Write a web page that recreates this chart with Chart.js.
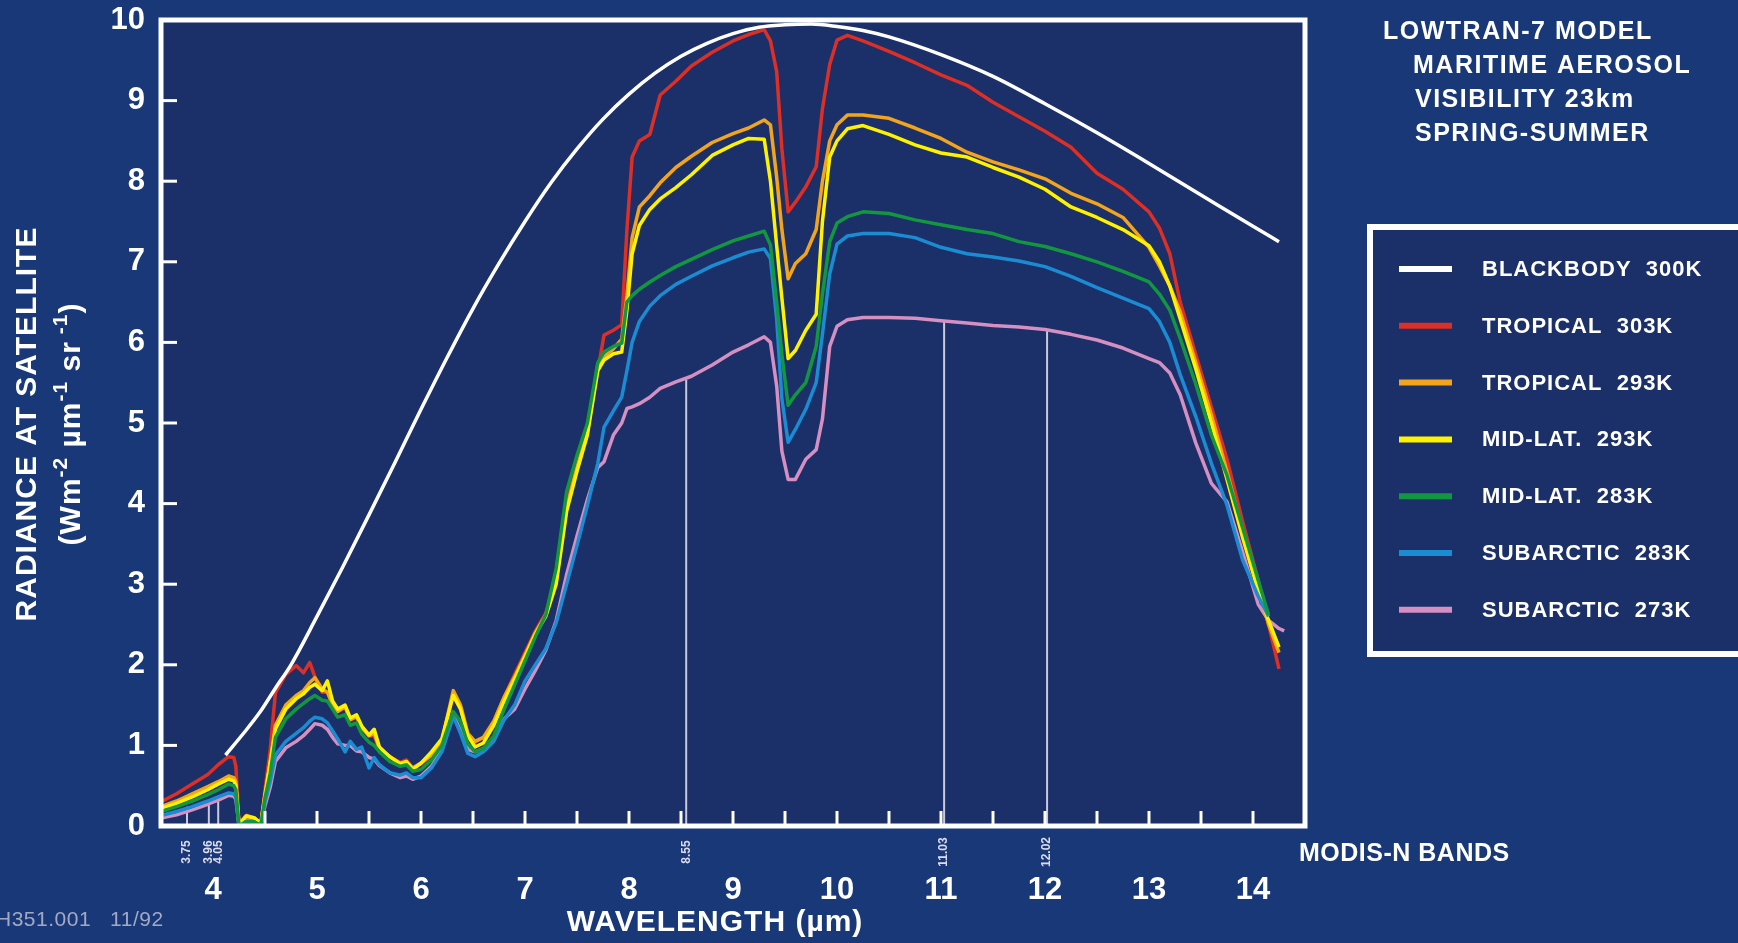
<!DOCTYPE html>
<html>
<head>
<meta charset="utf-8">
<script src="https://cdn.jsdelivr.net/npm/chart.js@4.4.1/dist/chart.umd.min.js"></script>
<style>
  html, body { margin: 0; padding: 0; background: #193878; overflow: hidden; }
  canvas { display: block; }
</style>
</head>
<body>
<canvas id="chart" width="1738" height="943"></canvas>
<script>
// wavelength grid (um) shared by the six LOWTRAN curves
const wavelength = [
  3.5, 3.65, 3.8, 3.95, 4.05, 4.15, 4.2, 4.22, 4.25, 4.32,
  4.4, 4.46, 4.5, 4.55, 4.6, 4.7, 4.8, 4.87, 4.93, 4.98,
  5.05, 5.1, 5.15, 5.2, 5.27, 5.32, 5.38, 5.43, 5.5, 5.55,
  5.6, 5.7, 5.8, 5.86, 5.92, 6.0, 6.1, 6.2, 6.31, 6.38,
  6.45, 6.52, 6.6, 6.7, 6.8, 6.9, 7.0, 7.1, 7.2, 7.3,
  7.4, 7.5, 7.6, 7.7, 7.76, 7.85, 7.93, 7.98, 8.03, 8.1,
  8.2, 8.3, 8.45, 8.6, 8.8, 9.0, 9.15, 9.3, 9.36, 9.42,
  9.47, 9.53, 9.6, 9.7, 9.8, 9.86, 9.93, 10.0, 10.1, 10.25,
  10.5, 10.75, 11.0, 11.25, 11.5, 11.75, 12.0, 12.25, 12.5, 12.75,
  13.0, 13.1, 13.2, 13.3, 13.45, 13.6, 13.75, 13.9, 14.05, 14.15,
  14.25, 14.3
];

const tropical303 = [
  0.30, 0.40, 0.52, 0.64, 0.76, 0.86, 0.85, 0.74, 0.02, 0.10,
  0.08, 0.02, 0.45, 0.95, 1.65, 1.88, 1.99, 1.90, 2.03, 1.85,
  1.66, 1.66, 1.52, 1.44, 1.47, 1.32, 1.35, 1.22, 1.12, 1.12,
  0.96, 0.86, 0.79, 0.82, 0.72, 0.77, 0.88, 1.05, 1.64, 1.48,
  1.14, 1.04, 1.10, 1.30, 1.60, 1.88, 2.15, 2.42, 2.64, 3.10,
  4.00, 4.50, 4.92, 5.65, 6.09, 6.15, 6.22, 7.40, 8.30, 8.50,
  8.58, 9.07, 9.24, 9.43, 9.60, 9.74, 9.82, 9.88, 9.74, 9.36,
  8.40, 7.62, 7.74, 7.93, 8.18, 8.90, 9.45, 9.75, 9.81, 9.74,
  9.61, 9.47, 9.32, 9.19, 8.98, 8.80, 8.62, 8.42, 8.10, 7.90,
  7.62, 7.42, 7.10, 6.50, 5.85, 5.20, 4.55, 3.78, 3.05, 2.50,
  1.95, null
];

const tropical293 = [
  0.24, 0.31, 0.40, 0.49, 0.55, 0.62, 0.60, 0.55, 0.03, 0.13,
  0.10, 0.03, 0.40, 0.80, 1.25, 1.50, 1.62, 1.68, 1.78, 1.84,
  1.70, 1.66, 1.50, 1.42, 1.48, 1.32, 1.36, 1.22, 1.12, 1.15,
  0.96, 0.86, 0.78, 0.80, 0.72, 0.78, 0.88, 1.05, 1.68, 1.50,
  1.15, 1.05, 1.10, 1.30, 1.60, 1.85, 2.12, 2.40, 2.62, 3.05,
  3.95, 4.45, 4.88, 5.72, 5.82, 5.92, 6.04, 6.58, 7.30, 7.68,
  7.82, 7.98, 8.17, 8.31, 8.48, 8.59, 8.66, 8.76, 8.70, 8.05,
  7.40, 6.79, 6.98, 7.10, 7.40, 8.00, 8.50, 8.70, 8.82, 8.82,
  8.78, 8.66, 8.53, 8.36, 8.24, 8.14, 8.03, 7.85, 7.72, 7.55,
  7.18, 6.95, 6.70, 6.38, 5.75, 5.10, 4.40, 3.65, 2.95, 2.50,
  2.15, null
];

const midLat293 = [
  0.22, 0.28, 0.36, 0.45, 0.52, 0.58, 0.56, 0.50, 0.02, 0.12,
  0.10, 0.03, 0.38, 0.78, 1.20, 1.45, 1.58, 1.64, 1.72, 1.76,
  1.68, 1.80, 1.55, 1.45, 1.50, 1.34, 1.38, 1.24, 1.13, 1.20,
  0.98, 0.86, 0.77, 0.80, 0.70, 0.78, 0.92, 1.08, 1.62, 1.45,
  1.12, 0.98, 1.03, 1.25, 1.55, 1.82, 2.10, 2.38, 2.60, 3.00,
  3.90, 4.40, 4.85, 5.65, 5.78, 5.86, 5.88, 6.40, 7.10, 7.45,
  7.65, 7.78, 7.92, 8.08, 8.32, 8.45, 8.53, 8.52, 8.00, 7.20,
  6.55, 5.80, 5.90, 6.15, 6.35, 7.50, 8.30, 8.50, 8.65, 8.69,
  8.58, 8.45, 8.35, 8.30, 8.17, 8.05, 7.90, 7.68, 7.55, 7.40,
  7.20, 7.00, 6.70, 6.29, 5.67, 5.00, 4.30, 3.58, 2.92, 2.55,
  2.22, null
];

const midLat283 = [
  0.18, 0.24, 0.31, 0.39, 0.45, 0.52, 0.50, 0.45, -0.02, 0.05,
  0.05, 0.00, 0.35, 0.65, 1.10, 1.33, 1.45, 1.52, 1.58, 1.62,
  1.56, 1.55, 1.45, 1.35, 1.38, 1.25, 1.28, 1.14, 1.04, 1.00,
  0.92, 0.80, 0.74, 0.76, 0.68, 0.70, 0.82, 1.00, 1.42, 1.30,
  1.02, 0.92, 0.96, 1.12, 1.45, 1.75, 2.05, 2.35, 2.62, 3.20,
  4.15, 4.60, 5.00, 5.75, 5.88, 5.95, 5.99, 6.50, 6.58, 6.66,
  6.75, 6.83, 6.94, 7.03, 7.15, 7.26, 7.32, 7.38, 7.21, 6.50,
  5.85, 5.22, 5.35, 5.50, 5.95, 6.60, 7.25, 7.48, 7.56, 7.62,
  7.60, 7.52, 7.46, 7.40, 7.35, 7.25, 7.19, 7.10, 7.00, 6.88,
  6.75, 6.60, 6.40, 6.05, 5.48, 4.85, 4.35, 3.70, 3.05, 2.62,
  null, null
];

const subarctic283 = [
  0.13, 0.18, 0.24, 0.31, 0.36, 0.41, 0.40, 0.36, 0.00, 0.06,
  0.05, 0.01, 0.30, 0.55, 0.88, 1.05, 1.15, 1.22, 1.30, 1.35,
  1.33, 1.28, 1.18, 1.08, 0.92, 1.05, 0.95, 0.98, 0.72, 0.85,
  0.76, 0.66, 0.63, 0.66, 0.60, 0.60, 0.72, 0.92, 1.36, 1.15,
  0.90, 0.86, 0.92, 1.05, 1.32, 1.50, 1.80, 2.00, 2.20, 2.52,
  3.00, 3.48, 3.98, 4.50, 4.95, 5.15, 5.32, 5.65, 6.00, 6.26,
  6.45, 6.58, 6.72, 6.82, 6.95, 7.05, 7.12, 7.16, 7.04, 6.29,
  5.30, 4.76, 4.92, 5.17, 5.50, 6.10, 6.85, 7.22, 7.32, 7.35,
  7.35, 7.30, 7.18, 7.10, 7.06, 7.01, 6.94, 6.82, 6.68, 6.55,
  6.42, 6.26, 6.00, 5.60, 5.08, 4.50, 3.98, 3.30, 2.85, 2.60,
  null, null
];

const subarctic273 = [
  0.10, 0.14, 0.20, 0.27, 0.32, 0.38, 0.37, 0.33, 0.01, 0.07,
  0.05, 0.02, 0.25, 0.48, 0.80, 0.97, 1.05, 1.12, 1.20, 1.27,
  1.25, 1.20, 1.10, 1.02, 1.00, 1.00, 0.93, 0.92, 0.85, 0.83,
  0.75, 0.66, 0.60, 0.62, 0.58, 0.62, 0.74, 0.95, 1.38, 1.18,
  0.95, 0.92, 0.96, 1.10, 1.33, 1.45, 1.70, 1.93, 2.18, 2.55,
  3.12, 3.60, 4.05, 4.45, 4.52, 4.85, 5.00, 5.18, 5.20, 5.24,
  5.32, 5.43, 5.51, 5.58, 5.72, 5.88, 5.97, 6.07, 6.00, 5.46,
  4.65, 4.30, 4.30, 4.55, 4.67, 5.05, 5.95, 6.20, 6.28, 6.31,
  6.31, 6.30, 6.27, 6.24, 6.21, 6.19, 6.16, 6.10, 6.03, 5.93,
  5.80, 5.75, 5.62, 5.35, 4.75, 4.25, 4.02, 3.40, 2.75, 2.55,
  2.45, 2.42
];

// blackbody 300K
const bbWavelength = [
  4.12, 4.3, 4.45, 4.6, 4.75, 5.0, 5.25, 5.5, 5.75, 6.0,
  6.25, 6.5, 6.75, 7.0, 7.25, 7.5, 7.75, 8.0, 8.25, 8.5,
  8.75, 9.0, 9.25, 9.5, 9.75, 10.0, 10.25, 10.5, 11.0, 11.5,
  12.0, 12.5, 13.0, 13.5, 14.0, 14.25
];
const bbRadiance = [
  0.88, 1.16, 1.41, 1.71, 2.00, 2.60, 3.22, 3.86, 4.51, 5.17,
  5.81, 6.42, 6.98, 7.50, 7.98, 8.40, 8.77, 9.08, 9.34, 9.55,
  9.71, 9.83, 9.91, 9.94, 9.95, 9.92, 9.87, 9.79, 9.57, 9.30,
  8.96, 8.60, 8.22, 7.83, 7.44, 7.25
];

const seriesLabels = [
  'BLACKBODY  300K', 'TROPICAL  303K', 'TROPICAL  293K', 'MID-LAT.  293K',
  'MID-LAT.  283K', 'SUBARCTIC  283K', 'SUBARCTIC  273K'
];
const seriesColors = ['#ffffff', '#dc2f26', '#f2a51c', '#fff200', '#129640', '#1b8bd2', '#d58fc0'];

const xTickValues = [4, 5, 6, 7, 8, 9, 10, 11, 12, 13, 14];
const yTickValues = [0, 1, 2, 3, 4, 5, 6, 7, 8, 9, 10];

// MODIS-N band markers
const bandWavelength = [3.75, 3.96, 4.05, 8.55, 11.03, 12.02];
const bandLabel = ['3.75', '3.96', '4.05', '8.55', '11.03', '12.02'];
const bandTop = [0.24, 0.28, 0.32, 5.54, 6.27, 6.16];

const FONT = "'Liberation Sans', Arial, sans-serif";
const OUTER = '#193878';
const INNER = '#1b2f68';

const toPoints = (xs, ys) => xs.map((x, i) => ({ x, y: ys[i] }));

function line(label, color, xs, ys, order, extra) {
  return Object.assign({
    label,
    data: toPoints(xs, ys),
    borderColor: color,
    backgroundColor: color,
    borderWidth: 3.5,
    pointRadius: 0,
    tension: 0,
    borderJoinStyle: 'round',
    fill: false,
    order
  }, extra || {});
}

function drawRotated(ctx, parts, cx, cy) {
  // parts: [text, size, raise]
  ctx.save();
  ctx.translate(cx, cy);
  ctx.rotate(-Math.PI / 2);
  let total = 0;
  parts.forEach(p => {
    ctx.font = `bold ${p[1]}px ${FONT}`;
    total += ctx.measureText(p[0]).width;
  });
  let x = -total / 2;
  ctx.textBaseline = 'middle';
  ctx.textAlign = 'left';
  parts.forEach(p => {
    ctx.font = `bold ${p[1]}px ${FONT}`;
    ctx.fillText(p[0], x, -p[2]);
    x += ctx.measureText(p[0]).width;
  });
  ctx.restore();
}

const decor = {
  id: 'decor',
  beforeDraw(chart) {
    const { ctx, chartArea: a } = chart;
    ctx.save();
    ctx.fillStyle = OUTER;
    ctx.fillRect(0, 0, chart.width, chart.height);
    ctx.fillStyle = INNER;
    ctx.fillRect(a.left, a.top, a.right - a.left, a.bottom - a.top);
    ctx.restore();
  },
  beforeDatasetsDraw(chart) {
    const { ctx, scales: { x, y } } = chart;
    ctx.save();
    ctx.strokeStyle = '#c9c9de';
    ctx.lineWidth = 2;
    bandWavelength.forEach((w, i) => {
      const px = x.getPixelForValue(w);
      ctx.beginPath();
      ctx.moveTo(px, y.getPixelForValue(0));
      ctx.lineTo(px, y.getPixelForValue(bandTop[i]));
      ctx.stroke();
    });
    ctx.restore();
  },
  afterDatasetsDraw(chart) {
    const { ctx, chartArea: a, scales: { x, y } } = chart;
    ctx.save();

    // tick marks, pointing inwards
    ctx.strokeStyle = '#ffffff';
    ctx.lineWidth = 3;
    for (let w = 4.5; w <= 14; w += 0.5) {
      const px = x.getPixelForValue(w);
      ctx.beginPath();
      ctx.moveTo(px, a.bottom);
      ctx.lineTo(px, a.bottom - 15);
      ctx.stroke();
    }
    yTickValues.slice(1, -1).forEach(v => {
      const py = y.getPixelForValue(v);
      ctx.beginPath();
      ctx.moveTo(a.left, py);
      ctx.lineTo(a.left + 16, py);
      ctx.stroke();
    });

    // plot frame
    ctx.lineWidth = 5;
    ctx.strokeRect(a.left, a.top, a.right - a.left, a.bottom - a.top);

    // band labels under the axis
    ctx.fillStyle = '#dcdcec';
    ctx.font = `bold 12px ${FONT}`;
    bandWavelength.forEach((w, i) => {
      const px = x.getPixelForValue(w);
      ctx.save();
      ctx.translate(px, a.bottom + 26);
      ctx.rotate(-Math.PI / 2);
      ctx.textAlign = 'center';
      ctx.textBaseline = 'middle';
      ctx.fillText(bandLabel[i], 0, 0);
      ctx.restore();
    });

    ctx.fillStyle = '#ffffff';
    ctx.textBaseline = 'middle';
    ctx.textAlign = 'left';
    ctx.letterSpacing = '0.5px';
    ctx.font = `bold 25px ${FONT}`;
    ctx.fillText('MODIS-N BANDS', 1299, 854);

    ctx.textAlign = 'center';
    ctx.letterSpacing = '1px';
    ctx.font = `bold 30px ${FONT}`;
    ctx.fillText('WAVELENGTH (\u00b5m)', 715, 923);

    ctx.letterSpacing = '0.5px';
    ctx.textAlign = 'left';
    ctx.fillStyle = '#a3a9c4';
    ctx.font = `21px ${FONT}`;
    ctx.fillText('H351.001   11/92', -4, 920);

    // y axis title
    ctx.fillStyle = '#ffffff';
    ctx.letterSpacing = '1px';
    drawRotated(ctx, [['RADIANCE AT SATELLITE', 30, 0]], 28, 424);
    drawRotated(ctx, [
      ['(Wm', 30, 0], ['-2', 21, 11], [' \u00b5m', 30, 0], ['-1', 21, 11],
      [' sr', 30, 0], [' -1', 21, 11], [')', 30, 0]
    ], 72, 424);

    // model description
    ctx.letterSpacing = '1.5px';
    ctx.font = `bold 25px ${FONT}`;
    ctx.textAlign = 'left';
    ctx.fillText('LOWTRAN-7 MODEL', 1383, 32);
    ctx.fillText('MARITIME AEROSOL', 1413, 66);
    ctx.fillText('VISIBILITY 23km', 1415, 100);
    ctx.fillText('SPRING-SUMMER', 1415, 134);

    // legend box
    ctx.fillStyle = INNER;
    ctx.fillRect(1370, 227, 380, 427);
    ctx.strokeStyle = '#ffffff';
    ctx.lineWidth = 6;
    ctx.strokeRect(1370, 227, 380, 427);
    ctx.letterSpacing = '1px';
    ctx.font = `bold 22px ${FONT}`;
    chart.data.datasets.forEach((ds, i) => {
      const ry = 269 + i * 56.8;
      ctx.strokeStyle = ds.borderColor;
      ctx.lineWidth = 6;
      ctx.beginPath();
      ctx.moveTo(1399, ry);
      ctx.lineTo(1452, ry);
      ctx.stroke();
      ctx.fillStyle = '#ffffff';
      ctx.fillText(ds.label, 1482, ry + 1);
    });
    ctx.restore();
  }
};

const datasets = [
  line(seriesLabels[0], seriesColors[0], bbWavelength, bbRadiance, 0, { cubicInterpolationMode: 'monotone', borderWidth: 3.5 }),
  line(seriesLabels[1], seriesColors[1], wavelength, tropical303, 6),
  line(seriesLabels[2], seriesColors[2], wavelength, tropical293, 4),
  line(seriesLabels[3], seriesColors[3], wavelength, midLat293, 3),
  line(seriesLabels[4], seriesColors[4], wavelength, midLat283, 1),
  line(seriesLabels[5], seriesColors[5], wavelength, subarctic283, 2),
  line(seriesLabels[6], seriesColors[6], wavelength, subarctic273, 5)
];

new Chart(document.getElementById('chart'), {
  type: 'line',
  data: { datasets },
  options: {
    responsive: false,
    animation: false,
    devicePixelRatio: 1,
    layout: { padding: { left: 0, top: 20, right: 433, bottom: 0 } },
    scales: {
      x: {
        type: 'linear',
        min: 3.5,
        max: 14.5,
        grid: { display: false, drawTicks: false },
        border: { display: false },
        afterBuildTicks: s => { s.ticks = xTickValues.map(v => ({ value: v })); },
        afterFit: s => { s.height = 117; s.paddingLeft = 0; s.paddingRight = 0; },
        ticks: {
          color: '#ffffff',
          padding: 46,
          maxRotation: 0,
          font: { family: FONT, size: 31, weight: 'bold' }
        }
      },
      y: {
        min: 0,
        max: 10,
        grid: { display: false, drawTicks: false },
        border: { display: false },
        afterBuildTicks: s => { s.ticks = yTickValues.map(v => ({ value: v })); },
        afterFit: s => { s.width = 161; s.paddingTop = 0; s.paddingBottom = 0; },
        ticks: {
          color: '#ffffff',
          padding: 16,
          font: { family: FONT, size: 31, weight: 'bold' }
        }
      }
    },
    plugins: {
      legend: { display: false },
      tooltip: { enabled: false }
    }
  },
  plugins: [decor]
});
</script>
</body>
</html>
